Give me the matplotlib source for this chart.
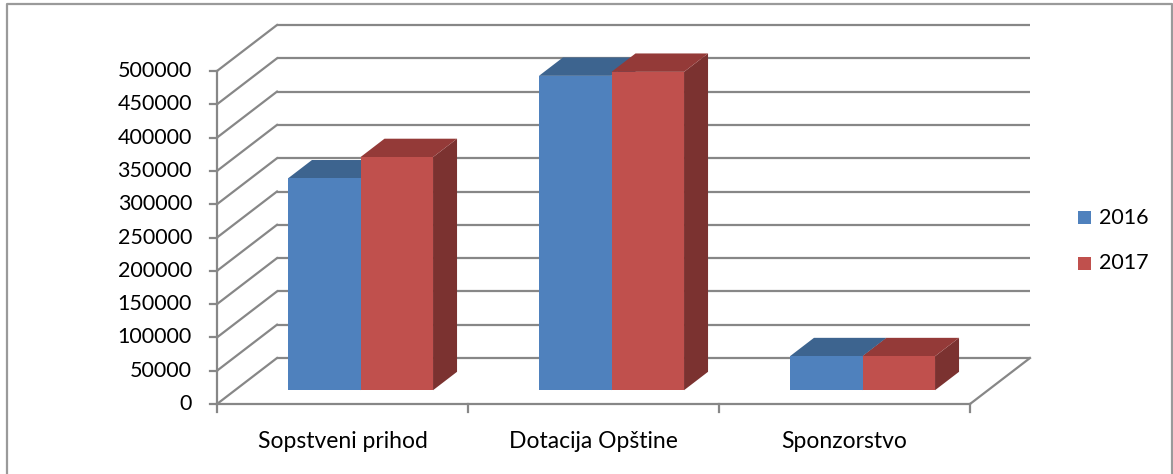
import matplotlib
matplotlib.use("Agg")
from matplotlib import pyplot as plt
from matplotlib.patches import Polygon

#data
categories = ["Sopstveni prihod", "Dotacija Opštine", "Sponzorstvo"]
years = ["2016", "2017"]
values_2016 = [318000, 472000, 51000]
values_2017 = [350000, 478000, 51000]
y_ticks = [0, 50000, 100000, 150000, 200000, 250000, 300000, 350000, 400000, 450000, 500000]

#colours (front, top, side) for each series
front_cols = ["#4f81bd", "#c0504d"]
top_cols = ["#3d648f", "#943a38"]
side_cols = ["#385d8a", "#7b3230"]
grid_col = "#878787"

W, H = 1173, 474
#pixel layout of the front plane: category 0 at x=217, category 3 at x=970
#value 0 at y=404, 500000 at y=71
px_per_cat = (970 - 217) / 3
px_per_val = (404 - 71) / 500000
#full depth of the box in data units (60 px right, 46 px up)
DX = 60 / px_per_cat
DV = 46 / px_per_val

fig = plt.figure(figsize=(W / 100, H / 100), dpi=100)
ax = fig.add_axes([0, 0, 1, 1])
ax.set_xlim(-217 / px_per_cat, (W - 217) / px_per_cat)
ax.set_ylim(-(H - 404) / px_per_val, 404 / px_per_val)
ax.axis("off")

plt.rcParams["font.family"] = ["Lato", "DejaVu Sans"]
fsize = 15.5

def proj(x, v, d):
    return (x + d * DX, v + d * DV)

n_cat = len(categories)
top = y_ticks[-1]

#back wall gridlines and left wall diagonals
for t in y_ticks:
    x0, y0 = proj(0, t, 1)
    x1, y1 = proj(n_cat, t, 1)
    ax.plot([x0, x1], [y0, y1], color=grid_col, lw=1.6, zorder=1, solid_capstyle="butt")
    ax.plot([0, x0], [t, y0], color=grid_col, lw=1.6, zorder=1)
    #tick mark and label on the front axis
    ax.plot([-7 / px_per_cat, 0], [t, t], color=grid_col, lw=1.6, zorder=2)
    ax.annotate(str(t), xy=(0, t), xytext=(-25, 0), textcoords="offset pixels",
                ha="right", va="center", fontsize=fsize, color="black")

#floor front edge and right edge
ax.plot([0, n_cat], [0, 0], color=grid_col, lw=1.6, zorder=2)
xr, yr = proj(n_cat, 0, 1)
ax.plot([n_cat, xr], [0, yr], color=grid_col, lw=1.6, zorder=2)
#vertical axis line
ax.plot([0, 0], [0, top], color=grid_col, lw=1.6, zorder=2)

#category ticks and labels
for i in range(n_cat + 1):
    ax.plot([i, i], [0, -8 / px_per_val], color=grid_col, lw=1.6, zorder=2)
for i, c in enumerate(categories):
    ax.annotate(c, xy=(i + 0.5, 0), xytext=(0, -37), textcoords="offset pixels",
                ha="center", va="center", fontsize=16.5, color="black")

#3d bars
gap = 0.211
bw = (1 - 2 * gap) / 2
d0, d1 = 0.3, 0.7
for i in range(n_cat):
    for j, vals in enumerate([values_2016, values_2017]):
        v = vals[i]
        xl = i + gap + j * bw
        xr = xl + bw
        front = [proj(xl, 0, d0), proj(xr, 0, d0), proj(xr, v, d0), proj(xl, v, d0)]
        topf = [proj(xl, v, d0), proj(xr, v, d0), proj(xr, v, d1), proj(xl, v, d1)]
        side = [proj(xr, 0, d0), proj(xr, 0, d1), proj(xr, v, d1), proj(xr, v, d0)]
        z = 5 + i * 3 + j
        ax.add_patch(Polygon(side, closed=True, fc=side_cols[j], ec="none", zorder=z))
        ax.add_patch(Polygon(topf, closed=True, fc=top_cols[j], ec="none", zorder=z))
        ax.add_patch(Polygon(front, closed=True, fc=front_cols[j], ec="none", zorder=z))

#legend, drawn by hand to match the small squares
leg_y = [218, 263]
for j, yr_lab in enumerate(years):
    fig.patches.append(plt.Rectangle((1078 / W, 1 - (leg_y[j] + 6.5) / H), 13 / W, 13 / H,
                                     transform=fig.transFigure, fc=front_cols[j], ec="none"))
    fig.text(1099 / W, 1 - leg_y[j] / H, yr_lab, ha="left", va="center",
             fontsize=fsize, color="black")

#outer border (left, top, right)
fig.add_artist(plt.Line2D([6.5 / W, 6.5 / W, 1171.5 / W, 1171.5 / W],
                          [0, 1 - 3.5 / H, 1 - 3.5 / H, 0],
                          transform=fig.transFigure, color="#9a9a9a", lw=1.6))

fig.savefig("out.png", dpi=100)
